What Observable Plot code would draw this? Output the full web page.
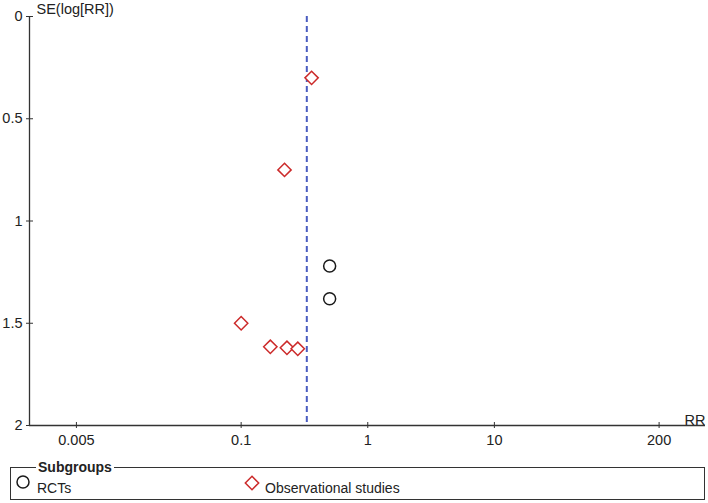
<!DOCTYPE html>
<html>
<head>
<meta charset="utf-8">
<script src="https://cdn.jsdelivr.net/npm/d3@7"></script>
<script src="https://cdn.jsdelivr.net/npm/@observablehq/plot@0.6"></script>
<style>
  html, body { margin: 0; padding: 0; background: #fff; }
  #wrap { position: relative; width: 708px; height: 503px; font-family: "Liberation Sans", Arial, sans-serif; color: #222; }
  #legend { position: absolute; left: 10px; top: 467px; width: 693px; height: 31px; border: 1px solid #333; box-sizing: content-box; }
  #legend .title { position: absolute; left: 25px; top: -9px; background: #fff; padding: 0 2px; font-weight: bold; font-size: 14px; line-height: 16px; }
  #legend .item { position: absolute; font-size: 14px; line-height: 16px; }
  #legend svg { position: absolute; overflow: visible; }
</style>
</head>
<body>
<div id="wrap"></div>
<script>
// ---- data ----
const subgroup = ["Observational studies", "Observational studies", "RCTs", "RCTs",
                  "Observational studies", "Observational studies", "Observational studies", "Observational studies"];
const rr = [0.36, 0.22, 0.50, 0.50, 0.10, 0.17, 0.23, 0.28];
const se = [0.30, 0.75, 1.22, 1.38, 1.50, 1.615, 1.62, 1.625];
const pooledRR = [0.33];
const xTicks = [0.005, 0.1, 1, 10, 200];
const xTickLabels = ["0.005", "0.1", "1", "10", "200"];
const yTicks = [0, 0.5, 1, 1.5, 2];
const yTickLabels = ["0", "0.5", "1", "1.5", "2"];
const xDomain = [0.00213, 465];
const yDomain = [0, 2];
const groups = ["RCTs", "Observational studies"];
const groupColors = ["#1a1a1a", "#cc2a2a"];
const groupSymbols = ["circle", "diamond2"];

const data = rr.map((v, i) => ({rr: v, se: se[i], group: subgroup[i]}));

const font = "14.5px";
const chart = Plot.plot({
  width: 708,
  height: 460,
  marginLeft: 29,
  marginRight: 3,
  marginTop: 16,
  marginBottom: 35,
  style: {fontFamily: "'Liberation Sans', Arial, sans-serif", fontSize: font, color: "#222", background: "#fff"},
  x: {type: "log", domain: xDomain},
  y: {domain: yDomain, range: [16, 425]},
  color: {domain: groups, range: groupColors},
  symbol: {domain: groups, range: groupSymbols},
  marks: [
    Plot.ruleY([yDomain[1]], {stroke: "#333", strokeWidth: 1.3}),
    Plot.ruleX([xDomain[0]], {stroke: "#333", strokeWidth: 1.3}),
    // y axis: ticks crossing the axis line, then labels
    Plot.axisY({ticks: yTicks, tickSize: 7, dx: 4, tickFormat: () => "", stroke: "#333", label: null}),
    Plot.text(yTicks, {y: d => d, text: (d, i) => yTickLabels[i], frameAnchor: "left", textAnchor: "end", dx: -7, fontSize: font, fill: "#222"}),
    // x axis
    Plot.axisX({ticks: xTicks, tickSize: 6, dy: -3, tickFormat: () => "", stroke: "#333", label: null}),
    Plot.text(xTicks, {x: d => d, text: (d, i) => xTickLabels[i], frameAnchor: "bottom", lineAnchor: "top", dy: 9, fontSize: font, fill: "#222"}),
    Plot.ruleX(pooledRR, {stroke: "#4a5cc0", strokeWidth: 2, strokeDasharray: "6,4"}),
    Plot.dot(data, {x: "rr", y: "se", symbol: "group", stroke: "group", fill: "white", r: 6, strokeWidth: 1.5}),
    Plot.text(["SE(log[RR])"], {frameAnchor: "top-left", textAnchor: "start", lineAnchor: "middle", dx: 7, dy: -7, fontSize: font, fill: "#222"}),
    Plot.text(["RR"], {frameAnchor: "bottom-right", textAnchor: "end", lineAnchor: "bottom", dy: -1, fontSize: font, fill: "#222"})
  ]
});

const wrap = document.getElementById("wrap");
wrap.appendChild(chart);

// legend built from the same group arrays
const legend = document.createElement("div");
legend.id = "legend";
legend.innerHTML = `<div class="title">Subgroups</div>`;
const itemPos = [{sx: 12, tx: 26}, {sx: 241, tx: 254}];
groups.forEach((g, i) => {
  const p = itemPos[i];
  const sym = d3.create("svg").attr("width", 16).attr("height", 16)
    .style("left", (p.sx - 8) + "px").style("top", (i === 0 ? 6 : 7) + "px");
  sym.append("path")
    .attr("transform", "translate(8,8)")
    .attr("d", d3.symbol(groupSymbols[i] === "circle" ? d3.symbolCircle : d3.symbolDiamond2, Math.PI * 36)())
    .attr("fill", "white").attr("stroke", groupColors[i]).attr("stroke-width", 1.5);
  legend.appendChild(sym.node());
  const t = document.createElement("div");
  t.className = "item";
  t.style.left = p.tx + "px";
  t.style.top = "12px";
  t.textContent = g;
  legend.appendChild(t);
});
wrap.appendChild(legend);
</script>
</body>
</html>
